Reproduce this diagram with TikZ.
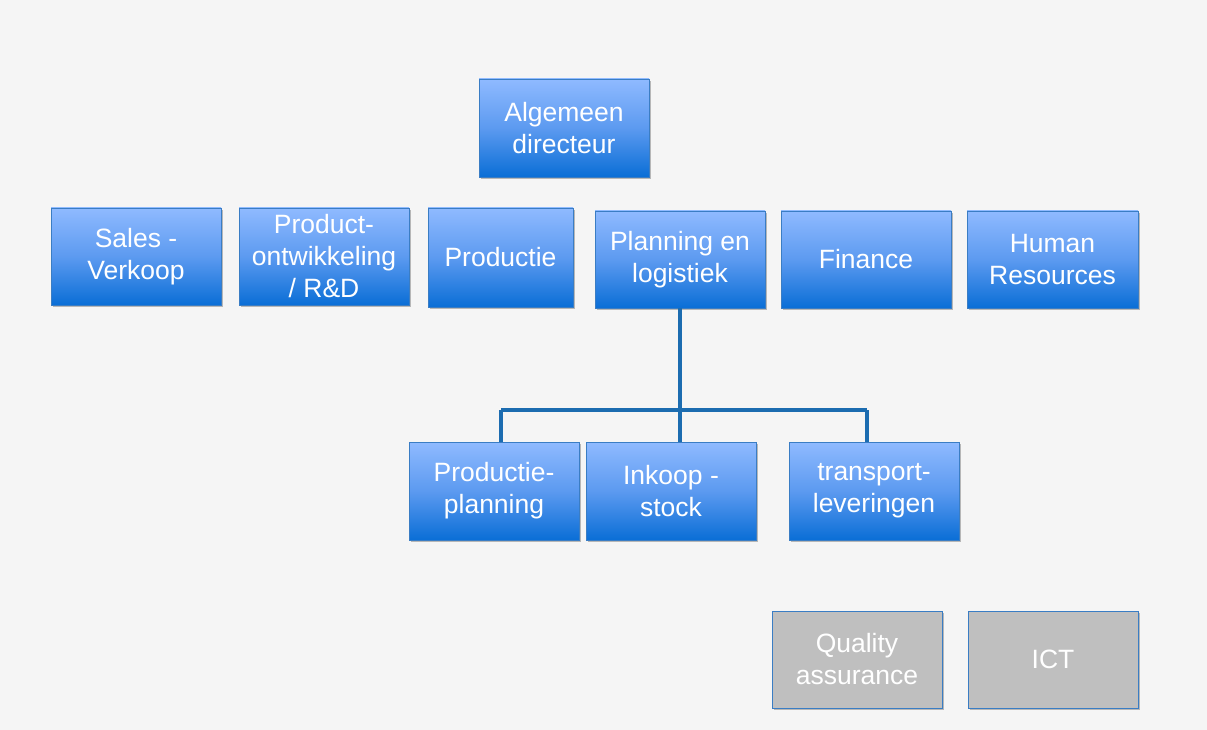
\documentclass[tikz,border=0pt]{standalone}
\usepackage{fontspec}
\setmainfont{Liberation Sans}
\usetikzlibrary{shadows}
\definecolor{bg}{HTML}{F5F5F5}
\definecolor{topblue}{HTML}{8FBAFF}
\definecolor{midblue}{HTML}{5C9AF0}
\definecolor{botblue}{HTML}{0A6ED6}
\definecolor{edgeblue}{HTML}{3A7DC4}
\definecolor{linkblue}{HTML}{1C6CB0}
\definecolor{greyfill}{HTML}{BFBFBF}
\tikzset{
  unit/.style={draw=edgeblue, line width=0.8pt, text=white, align=center,
    font=\fontsize{26.5}{32}\selectfont, inner sep=0pt,
    drop shadow={shadow xshift=1.5pt, shadow yshift=-2pt, fill=black, opacity=0.25}},
  bluebox/.style={unit, top color=topblue, bottom color=botblue, middle color=midblue},
  greybox/.style={unit, fill=greyfill},
  link/.style={draw=linkblue, line width=3.6pt}
}
\newcommand{\boxat}[7]{% name, style, x1, y1, x2, y2, text
  \node[#2, minimum width={(#5-#3)*1pt}, minimum height={(#6-#4)*1pt}]
    (#1) at ({(#3+#5)/2*1pt}, {-(#4+#6)/2*1pt}) {#7};}
\begin{document}
\begin{tikzpicture}
\fill[bg] (0,0) rectangle (1207pt,-730pt);
\useasboundingbox (0,0) rectangle (1207pt,-730pt);
\coordinate (bus) at (0,-410pt);
\coordinate (ppx) at (501pt,0);
\coordinate (trx) at (867pt,0);
\boxat{ceo}{bluebox}{479}{79}{649}{177}{Algemeen\\directeur}
\boxat{sales}{bluebox}{51}{208}{221}{305}{Sales -\\Verkoop}
\boxat{rnd}{bluebox}{239}{208}{409}{305}{Product-\\ontwikkeling\\/ R\&D}
\boxat{prod}{bluebox}{428}{208}{573}{307}{Productie}
\boxat{plan}{bluebox}{595}{211}{765}{308}{Planning en\\logistiek}
\boxat{fin}{bluebox}{781}{211}{951}{308}{Finance}
\boxat{hr}{bluebox}{967}{211}{1138}{308}{Human\\Resources}
\draw[link] (plan.south) -- (bus -| plan.south);
\draw[link] (ppx |- bus) -- (trx |- bus);
\boxat{pp}{bluebox}{409}{442}{579}{540}{Productie-\\planning}
\boxat{ink}{bluebox}{586}{442}{756}{540}{Inkoop -\\stock}
\boxat{tr}{bluebox}{789}{442}{959}{540}{transport-\\leveringen}
\boxat{qa}{greybox}{772}{611}{942}{708}{Quality\\assurance}
\boxat{ict}{greybox}{968}{611}{1138}{708}{ICT}
\draw[link] (bus -| plan.south) -- (plan.south |- ink.north);
\draw[link] (ppx |- bus) -- (ppx |- pp.north);
\draw[link] (trx |- bus) -- (trx |- tr.north);
\end{tikzpicture}
\end{document}
